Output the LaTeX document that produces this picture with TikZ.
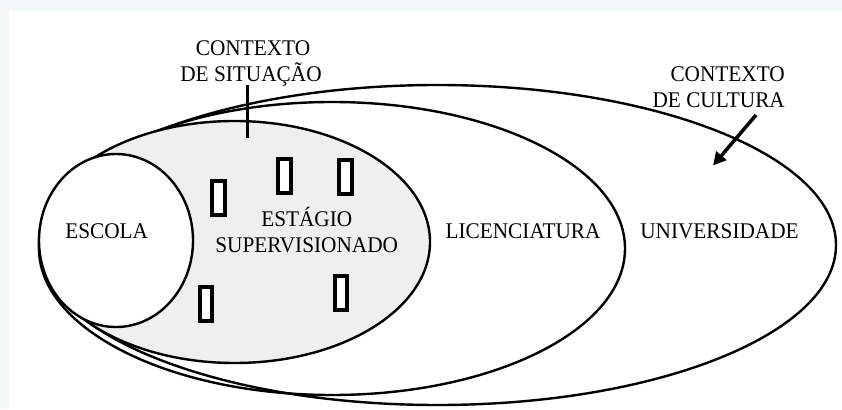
\documentclass[tikz,border=0pt]{standalone}
\usepackage{fontspec}
\setmainfont{Liberation Serif}[FakeStretch=0.95]
\usetikzlibrary{arrows.meta,shapes.geometric}
\definecolor{framecol}{HTML}{F2F7F8}
\definecolor{ssfill}{HTML}{EFEFF0}
\begin{document}
\begin{tikzpicture}[x=1pt,y=-1pt,
  ring/.style={ellipse, draw, line width=2.4pt, inner sep=0pt, outer sep=0pt},
  lbl/.style={font=\fontsize{22.4}{25}\selectfont, inner sep=0pt, anchor=base},
  bar/.style={draw, line width=4pt, fill=white},
  lead/.style={line width=3pt},
  pointer/.style={line width=3.5pt, -{Triangle[length=13pt,width=13pt]}}
]
\useasboundingbox (0,0) rectangle (842,409);
\fill[framecol] (0,0) rectangle (842,409);
\fill[white] (9,11) rectangle (842,409);

\node[ring, minimum width=797pt, minimum height=320pt] (uni) at (437.5,245) {};
\node[ring, minimum width=586pt, minimum height=293pt] (lic) at (332,248.5) {};
\node[ring, fill=ssfill, minimum width=391pt, minimum height=242pt] (est) at (234.5,242) {};
\node[ring, fill=white, minimum width=154pt, minimum height=173pt] (esc) at (116,240.5) {};

\draw[bar] (212,181) rectangle (224.7,214.7);
\draw[bar] (278,158.7) rectangle (290.7,193);
\draw[bar] (339,160) rectangle (352,194);
\draw[bar] (199.6,287) rectangle (211.7,320.7);
\draw[bar] (335,276) rectangle (347.3,309.7);

\node[lbl] (tesc) at (106.7,238) {ESCOLA};
\node[lbl] (test1) at (306.8,226.5) {ESTÁGIO};
\node[lbl] (test2) at (306.7,252.5) {SUPERVISIONADO};
\node[lbl] (tlic) at (523,238) {LICENCIATURA};
\node[lbl] (tuni) at (719.5,238) {UNIVERSIDADE};

\node[lbl] (sit1) at (253,56) {CONTEXTO};
\node[lbl] (sit2) at (251,81.5) {DE SITUAÇÃO};
\node[lbl, anchor=base east] (cul1) at (785,82) {CONTEXTO};
\node[lbl, anchor=base east] (cul2) at (785,107) {DE CULTURA};

\coordinate (sitTop) at (247.3,85);
\coordinate (sitEnd) at (247.3,138.3);
\draw[lead] (sitTop) -- (sitEnd);

\coordinate (culStart) at (756,115);
\coordinate (culTip) at (713,165.5);
\draw[pointer] (culStart) -- (culTip);
\end{tikzpicture}
\end{document}
